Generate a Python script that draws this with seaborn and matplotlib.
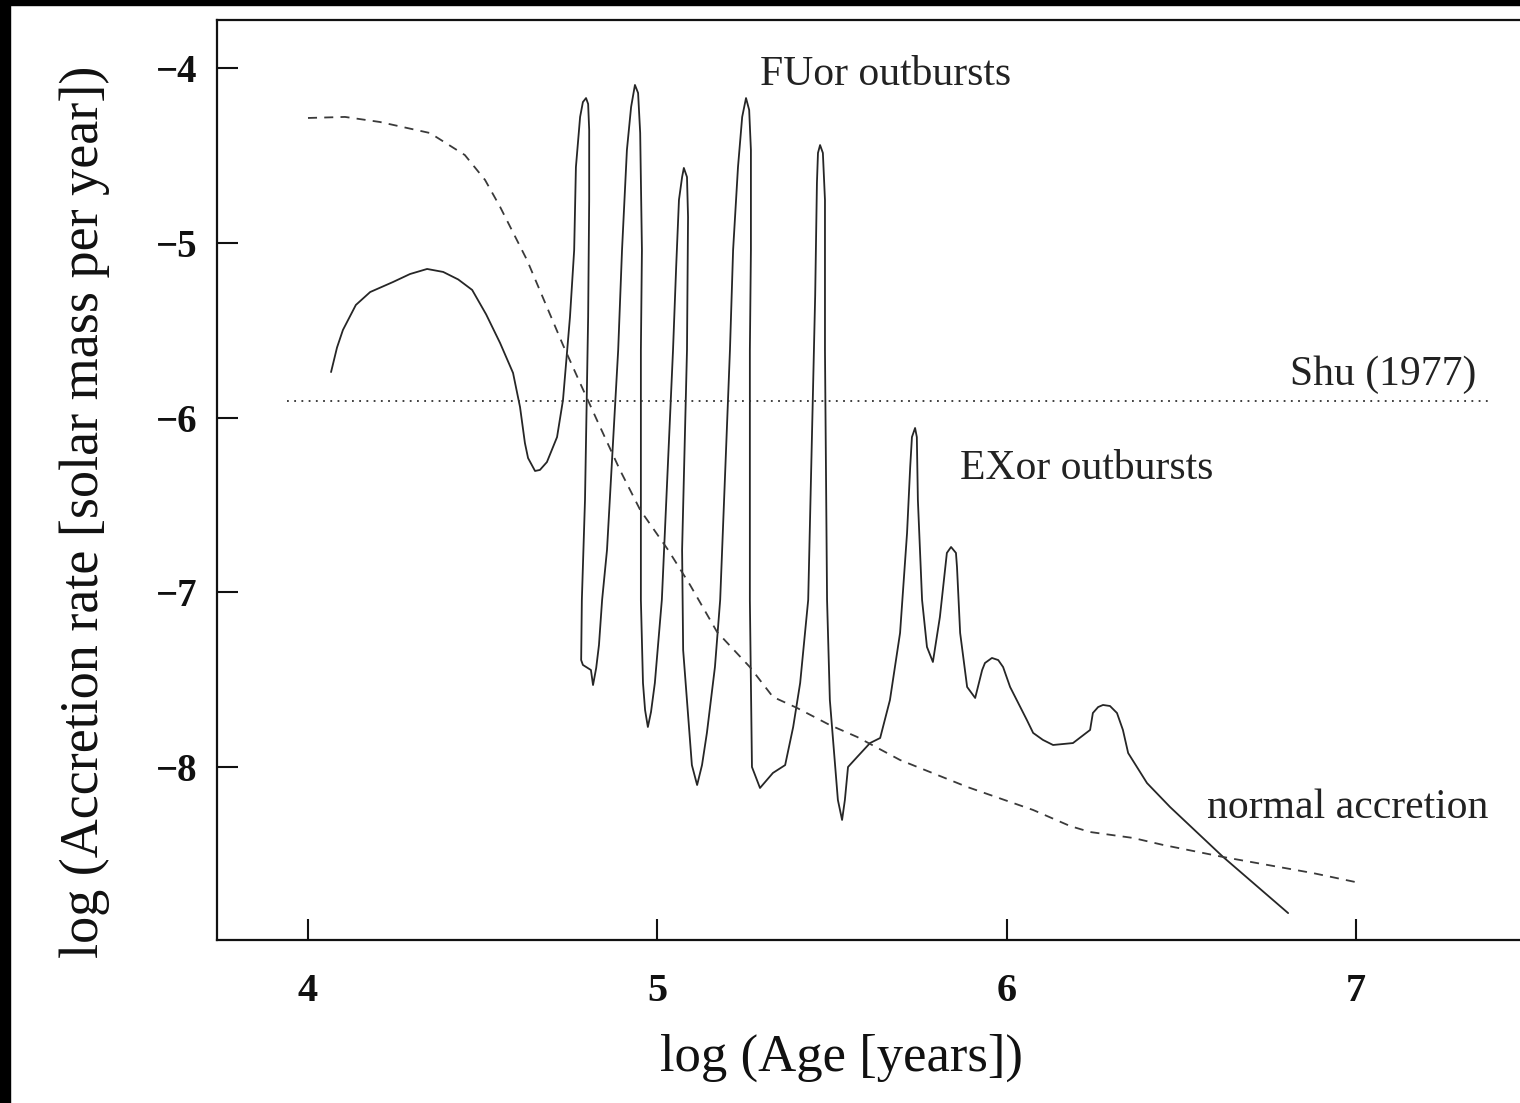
import numpy as np
import pandas as pd
import seaborn as sns
import matplotlib
matplotlib.use("Agg")
import matplotlib.pyplot as plt
from matplotlib.patches import Rectangle

# Episodic accretion history of a protostar (log age vs log accretion rate)
burst_age = [4.066, 4.083, 4.100, 4.137, 4.178, 4.243, 4.292, 4.341, 4.387, 4.430,
             4.470, 4.510, 4.550, 4.587, 4.607, 4.621, 4.630, 4.650, 4.664, 4.684,
             4.713, 4.730, 4.750, 4.762, 4.767, 4.779, 4.787, 4.796, 4.802, 4.805,
             4.805, 4.802, 4.793, 4.784, 4.782, 4.787, 4.810, 4.816, 4.825, 4.833,
             4.842, 4.856, 4.888, 4.899, 4.913, 4.925, 4.936, 4.945, 4.951, 4.956,
             4.953, 4.953, 4.959, 4.965, 4.973, 4.982, 4.993, 5.013, 5.045, 5.054,
             5.062, 5.071, 5.076, 5.085, 5.088, 5.085, 5.071, 5.074, 5.085, 5.099,
             5.114, 5.128, 5.142, 5.165, 5.180, 5.208, 5.217, 5.231, 5.243, 5.254,
             5.263, 5.268, 5.268, 5.265, 5.265, 5.271, 5.294, 5.331, 5.366, 5.389,
             5.409, 5.432, 5.452, 5.457, 5.460, 5.466, 5.474, 5.480, 5.480, 5.486,
             5.494, 5.517, 5.529, 5.537, 5.546, 5.572, 5.609, 5.638, 5.666, 5.695,
             5.715, 5.724, 5.729, 5.738, 5.743, 5.746, 5.758, 5.772, 5.789, 5.809,
             5.829, 5.841, 5.855, 5.858, 5.867, 5.887, 5.910, 5.930, 5.938, 5.958,
             5.976, 5.990, 6.010, 6.058, 6.076, 6.104, 6.133, 6.190, 6.239, 6.247,
             6.262, 6.276, 6.296, 6.316, 6.333, 6.348, 6.402, 6.468, 6.620, 6.806]
burst_rate = [-5.740, -5.600, -5.499, -5.356, -5.282, -5.225, -5.179, -5.150, -5.167, -5.210,
              -5.270, -5.410, -5.574, -5.745, -5.940, -6.146, -6.232, -6.306, -6.300, -6.255,
              -6.112, -5.900, -5.425, -5.042, -4.567, -4.280, -4.195, -4.172, -4.206, -4.355,
              -4.755, -5.425, -6.472, -7.044, -7.388, -7.416, -7.445, -7.531, -7.434, -7.302,
              -7.044, -6.758, -5.614, -5.042, -4.469, -4.223, -4.097, -4.143, -4.372, -5.042,
              -5.614, -7.044, -7.519, -7.674, -7.771, -7.685, -7.519, -7.044, -5.614, -5.139,
              -4.755, -4.624, -4.572, -4.624, -4.853, -5.614, -6.758, -7.331, -7.617, -7.989,
              -8.103, -7.989, -7.805, -7.428, -7.044, -5.614, -5.042, -4.567, -4.280, -4.172,
              -4.240, -4.469, -5.042, -5.614, -7.044, -8.000, -8.120, -8.034, -7.989, -7.771,
              -7.519, -7.044, -5.300, -4.658, -4.486, -4.441, -4.486, -4.755, -5.614, -7.044,
              -7.617, -8.189, -8.303, -8.189, -8.000, -7.943, -7.863, -7.834, -7.617, -7.233,
              -6.661, -6.283, -6.112, -6.060, -6.112, -6.472, -7.044, -7.313, -7.399, -7.142,
              -6.775, -6.741, -6.775, -6.856, -7.233, -7.542, -7.605, -7.445, -7.405, -7.376,
              -7.388, -7.428, -7.542, -7.731, -7.805, -7.845, -7.874, -7.863, -7.788, -7.691,
              -7.657, -7.645, -7.651, -7.691, -7.788, -7.920, -8.092, -8.229, -8.515, -8.836]

# Smooth (non-episodic) accretion model
smooth_age = [4.000, 4.106, 4.206, 4.349, 4.449, 4.507, 4.550, 4.627, 4.684, 4.730,
              4.779, 4.827, 4.893, 4.951, 5.031, 5.094, 5.171, 5.265, 5.331, 5.400,
              5.494, 5.572, 5.695, 5.887, 6.076, 6.182, 6.239, 6.362, 6.448, 6.620,
              6.877, 6.998]
smooth_rate = [-4.286, -4.280, -4.309, -4.372, -4.498, -4.641, -4.795, -5.099, -5.368, -5.585,
               -5.803, -6.014, -6.300, -6.529, -6.758, -6.959, -7.227, -7.428, -7.599, -7.662,
               -7.760, -7.828, -7.960, -8.114, -8.246, -8.338, -8.372, -8.406, -8.446, -8.515,
               -8.607, -8.658]

# Constant rate of the singular isothermal sphere collapse
shu_age = [3.94, 7.378]
shu_rate = [-5.906, -5.906]

x_ticks = [4, 5, 6, 7]
y_ticks = [-4, -5, -6, -7, -8]

sns.set_style("ticks")
plt.rcParams["font.family"] = ["Liberation Serif", "DejaVu Serif"]

W, H = 1520, 1103
fig = plt.figure(figsize=(W / 100, H / 100), dpi=100)
ax = fig.add_axes([217 / W, (H - 940) / H, 1400 / W, 920 / H])

sns.lineplot(x=burst_age, y=burst_rate, sort=False, estimator=None, ax=ax,
             color="#262626", lw=1.3)
sns.lineplot(x=smooth_age, y=smooth_rate, sort=False, estimator=None, ax=ax,
             color="#3a3a3a", lw=1.3, dashes=False, linestyle=(0, (5, 4)))
ax.plot(shu_age, shu_rate, color="#303030", lw=1.3, linestyle=(0, (1, 3)))

x0 = 4 - 91 / 349.3
ax.set_xlim(x0, x0 + 1400 / 349.3)
ax.set_ylim(-4 - 872 / 174.75, -4 + 48 / 174.75)

ax.set_xticks(x_ticks)
ax.set_xticklabels([str(v) for v in x_ticks], fontweight="bold", fontsize=29)
ax.set_yticks(y_ticks)
ax.set_yticklabels(["\u2212" + str(-v) for v in y_ticks], fontweight="bold", fontsize=28)
ax.tick_params(axis="x", direction="in", length=15, width=1.5, pad=24, colors="#111")
ax.tick_params(axis="y", direction="in", length=15, width=1.5, pad=14, colors="#111")

for side in ["left", "bottom", "top"]:
    ax.spines[side].set_linewidth(1.6)
    ax.spines[side].set_color("#111")
ax.spines["right"].set_visible(False)

ax.set_xlabel("log (Age [years])", fontsize=38, color="#111")
ax.set_ylabel("log (Accretion rate [solar mass per year])", fontsize=39, color="#111")
ax.xaxis.set_label_coords((842 - 217) / 1400, (940 - 1034) / 920)
ax.yaxis.set_label_coords((110 - 217) / 1400, (940 - 512) / 920)

ax.text(5.294, -4.097, "FUor outbursts", fontsize=30, color="#222", va="baseline")
ax.text(6.811, -5.814, "Shu (1977)", fontsize=30, color="#222", va="baseline")
ax.text(5.867, -6.352, "EXor outbursts", fontsize=30, color="#222", va="baseline")
ax.text(6.574, -8.292, "normal accretion", fontsize=30, color="#222", va="baseline")

# dark frame along the top and left edges of the page
fig.add_artist(Rectangle((0, 1 - 5 / H), 1, 5 / H, transform=fig.transFigure,
                         color="black", zorder=10))
fig.add_artist(Rectangle((0, 0), 10 / W, 1, transform=fig.transFigure,
                         color="black", zorder=10))

fig.savefig("out.png", dpi=100)
